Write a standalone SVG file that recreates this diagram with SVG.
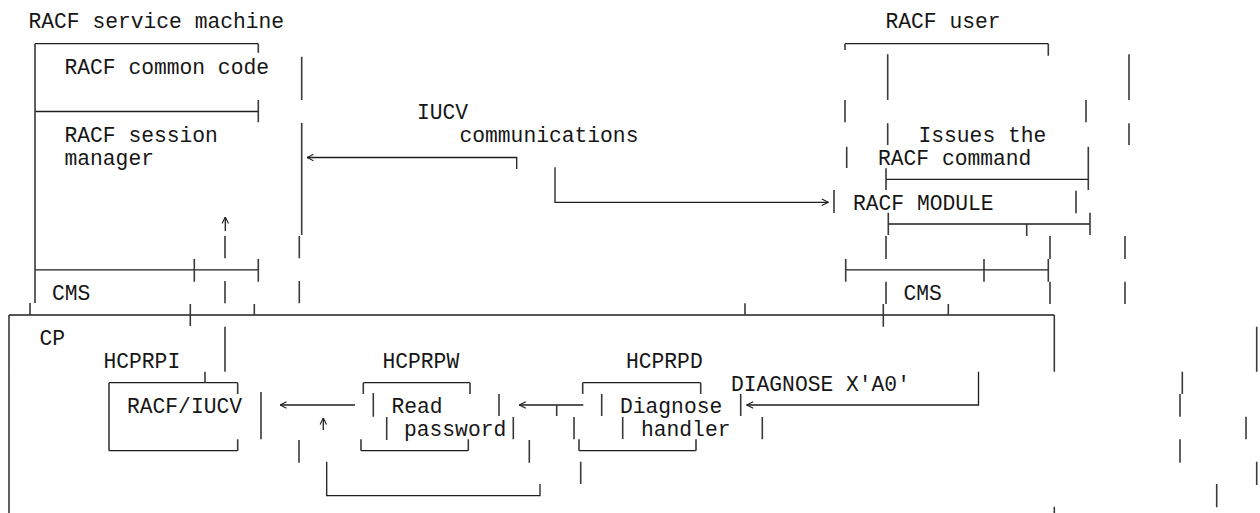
<svg xmlns="http://www.w3.org/2000/svg" width="1260" height="513" viewBox="0 0 1260 513">
<defs>
<style>
text{font-family:"Liberation Mono","DejaVu Sans Mono",monospace;font-size:21.3px;fill:#161616}
.h{stroke:#1e1e1e;stroke-width:1.3;fill:none}
.v{stroke:#3a3a3a;stroke-width:1.6;fill:none}
.c{stroke:#1e1e1e;stroke-width:1.3;fill:none}
</style>
<marker id="ah" viewBox="0 0 8 8" refX="7.5" refY="4" markerWidth="8" markerHeight="8" markerUnits="userSpaceOnUse" orient="auto"><path d="M1,0.8 L7.5,4 L1,7.2" stroke="#1e1e1e" stroke-width="1.1" fill="none"/></marker>
</defs>
<rect width="1260" height="513" fill="#fff"/>

<g id="service-machine">
<text x="28.5" y="28">RACF service machine</text>
<text x="64.5" y="74">RACF common code</text>
<text x="64.5" y="142">RACF session</text>
<text x="64.5" y="164.5">manager</text>
<text x="52" y="299.5">CMS</text>
<path class="h" d="M35,43.7H258.3M35,111.5H258.3M35,269.8H258.3"/>
<path class="v" d="M35,43.7V303M258.3,43.7V52.7M258.3,100V122.3M301.7,56.7V100M301.7,123V235M299.3,236V258.3M299.3,281V303.3M225,236V258.3M194.3,259V281.7M258.3,259V281.7M225,281V303.3"/>
</g>

<g id="racf-user">
<text x="885.5" y="28">RACF user</text>
<text x="918.5" y="142">Issues the</text>
<text x="878" y="164.5">RACF command</text>
<text x="853" y="209.5">RACF MODULE</text>
<text x="903.5" y="299.5">CMS</text>
<path class="h" d="M845,43.7H1048.3M886,179.3H1088.3M888.3,224H1090M845.7,269.8H1048.3"/>
<path class="v" d="M845,43.7V50M1048.3,43.7V55.7M887.7,54.3V100M1129,54.3V100M845,100V122.3M1086,100V122.3M887.7,123.3V145M1129,123.3V145M846.7,146.7V168M1088.3,146.7V190M886,168.3V190M834,190V213M1076,190.7V213.3M888.3,212.7V235M1090,212.7V235M1026.7,224V236M886,236V259M1050,236V259M1125,236V259M845.7,259V281.7M984,259V281.7M1048.3,259V281.7M886,281.7V304M1050,281.7V304M1125,281.7V304"/>
</g>

<g id="cp">
<text x="39.5" y="345">CP</text>
<path class="h" d="M9,315H1054.3"/>
<path class="v" d="M9,315V513M30,303V315M190.3,304V326M254.3,304V315M745,303.3V315M883.3,304V326.7M948.3,304V315M1054.3,315V371.7M1256.7,326.7V371.7M225,326.7V371.7M1182.3,371.7V394M1180,394V416.7M1246,416.7V439.3M1180,439.3V462.7M1256.7,461.7V485M1216.7,484V507.3M1054.3,506.7V513"/>
</g>

<g id="hcprpi">
<text x="103.5" y="368">HCPRPI</text>
<text x="127" y="413">RACF/IUCV</text>
<path class="h" d="M109,382.7H237.7M109,450.7H237.7"/>
<path class="v" d="M205,371.7V382.7M109,382.7V450.7M237.7,382.7V394M237.7,439.3V450.7M261,392V439.3"/>
</g>

<g id="hcprpw">
<text x="382.5" y="368">HCPRPW</text>
<text x="391.5" y="413">Read</text>
<text x="404" y="435.6">password</text>
<path class="h" d="M363.3,382.7H470M361,450.7H468.3"/>
<path class="v" d="M363.3,382.7V394M470,382.7V394M361,439.3V450.7M468.3,439.3V450.7M373.3,393V416.7M386.7,417V440M499,394V416M513.3,417V439.3M299,440V462.7M529.3,440V462.7M574,417V439.3M580.7,461.7V484"/>
</g>

<g id="hcprpd">
<text x="626" y="368">HCPRPD</text>
<text x="620" y="413">Diagnose</text>
<text x="641" y="435.6">handler</text>
<path class="h" d="M582.7,382.7H700.7M579,450.7H696"/>
<path class="v" d="M582.7,382.7V394M700.7,382.7V394M579,439.3V450.7M696,439.3V450.7M601.7,394V416M622.7,417V439M740.7,394V416M762.3,417V439.3"/>
</g>

<g id="labels">
<text x="417" y="119">IUCV</text>
<text x="459.5" y="142">communications</text>
<text x="731" y="390.5">DIAGNOSE X'A0'</text>
</g>

<g id="connectors">
<path class="c" d="M516.7,169V157.5H307" marker-end="url(#ah)"/>
<path class="c" d="M555,167.3V202.3H828.3" marker-end="url(#ah)"/>
<path class="c" d="M225.3,231V217" marker-end="url(#ah)"/>
<path class="c" d="M355,405H280" marker-end="url(#ah)"/>
<path class="c" d="M323.3,430V418" marker-end="url(#ah)"/>
<path class="c" d="M583.3,405H519.3" marker-end="url(#ah)"/>
<path class="v" d="M556.7,405V416"/>
<path class="c" d="M978.5,371.7V405H746.7" marker-end="url(#ah)"/>
<path class="c" d="M326.7,461.7V495.7H540V484"/>
</g>
</svg>
